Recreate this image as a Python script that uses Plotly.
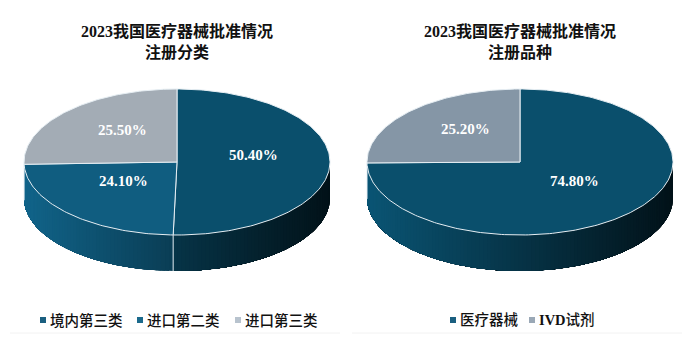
import numpy as np
import plotly.graph_objects as go

# ---------------- data ----------------
title_left = "2023我国医疗器械批准情况<br>注册分类"
title_right = "2023我国医疗器械批准情况<br>注册品种"
cats_left = ["境内第三类", "进口第二类", "进口第三类"]
vals_left = [50.4, 24.1, 25.5]
cats_right = ["医疗器械", "IVD试剂"]
vals_right = [74.8, 25.2]

# ---------------- styles ----------------
colors_left = ["#0a4f6c", "#105d80", "#a3acb5"]
colors_right = ["#0a4f6c", "#8596a6"]
legend_colors_left = ["#1a5f80", "#1b6a8c", "#b8c3ce"]
legend_colors_right = ["#1a5f80", "#9aa8b6"]

W, H = 690, 351
RX, RY, DEPTH = 153, 73, 36
CY = 162
CX_LEFT, CX_RIGHT = 177, 520

fig = go.Figure()


def hex2rgb(h):
    h = h.lstrip("#")
    return tuple(int(h[i:i + 2], 16) for i in (0, 2, 4))


def pt(cx, cy, th):
    r = np.radians(th)
    return cx + RX * np.sin(r), cy - RY * np.cos(r)


def pie3d(cx, vals, colors):
    total = float(sum(vals))
    bounds = [0.0]
    for v in vals:
        bounds.append(bounds[-1] + v / total * 360.0)
    # side wall (visible front half: 90..270 deg clockwise from top)
    for i, (a0, a1) in enumerate(zip(bounds[:-1], bounds[1:])):
        s0, s1 = max(a0, 90.0), min(a1, 270.0)
        if s1 <= s0:
            continue
        n = max(2, int((s1 - s0) / 1.5))
        ths = np.linspace(s0, s1, n + 1)
        base = hex2rgb(colors[i])
        for t0, t1 in zip(ths[:-1], ths[1:]):
            x0, y0 = pt(cx, CY, t0)
            x1, y1 = pt(cx, CY, t1)
            tt = ((x0 + x1) / 2 - (cx - RX)) / (2 * RX)
            f = 1.08 - 0.85 * tt
            c = "rgb(%d,%d,%d)" % tuple(min(255, int(v * f)) for v in base)
            # strip covers from t0 to the end of slice; later strips paint over
            arc = np.linspace(t0, s1, max(2, int((s1 - t0) / 1.5) + 2))
            px = [pt(cx, CY, a)[0] for a in arc]
            py = [pt(cx, CY, a)[1] for a in arc]
            xs = px + px[::-1] + [px[0]]
            ys = py + [v + DEPTH for v in py[::-1]] + [py[0]]
            fig.add_trace(go.Scatter(
                x=xs, y=ys, mode="lines", fill="toself", fillcolor=c,
                line=dict(width=0), hoverinfo="skip", showlegend=False))
    # boundary lines on the side
    for b in bounds:
        if 90.0 < b < 270.0:
            x, y = pt(cx, CY, b)
            fig.add_trace(go.Scatter(x=[x, x], y=[y, y + DEPTH], mode="lines",
                                     line=dict(color="#e6eef3", width=1),
                                     hoverinfo="skip", showlegend=False))
    # top face
    for i, (a0, a1) in enumerate(zip(bounds[:-1], bounds[1:])):
        ths = np.linspace(a0, a1, max(3, int(a1 - a0)))
        xs = [cx] + [pt(cx, CY, t)[0] for t in ths] + [cx]
        ys = [CY] + [pt(cx, CY, t)[1] for t in ths] + [CY]
        fig.add_trace(go.Scatter(x=xs, y=ys, mode="lines", fill="toself",
                                 fillcolor=colors[i],
                                 line=dict(color="#e6eef3", width=1),
                                 hoverinfo="skip", showlegend=False))
        mid = (a0 + a1) / 2
        lx, ly = cx + 0.5 * RX * np.sin(np.radians(mid)), CY - 0.5 * RY * np.cos(np.radians(mid)) - 7
        fig.add_annotation(x=lx, y=ly, xref="x", yref="y", showarrow=False,
                           text="%.2f%%" % vals[i],
                           font=dict(family="Liberation Serif", size=15, color="white", weight="bold"))


pie3d(CX_LEFT, vals_left, colors_left)
pie3d(CX_RIGHT, vals_right, colors_right)

# titles
for cx, t in [(CX_LEFT, title_left), (CX_RIGHT, title_right)]:
    fig.add_annotation(x=cx, y=41, xref="x", yref="y", showarrow=False, text="<b>%s</b>" % t,
                       font=dict(family="Liberation Serif, Noto Sans CJK SC", size=16, color="#111111"))

# legends
leg_y = 320
legend_items = [
    (cats_left, legend_colors_left, [43, 140, 238]),
    (cats_right, legend_colors_right, [453, 532]),
]
for cats, cols, xs in legend_items:
    fig.add_trace(go.Scatter(x=xs, y=[leg_y] * len(xs), mode="markers",
                             marker=dict(symbol="square", size=6, color=cols),
                             hoverinfo="skip", showlegend=False))
    for c, x in zip(cats, xs):
        txt = c.replace("IVD", "<b>IVD</b>")
        fig.add_annotation(x=x + 5, y=leg_y, xref="x", yref="y", showarrow=False,
                           xanchor="left", text=txt,
                           font=dict(family="Liberation Serif, Noto Sans CJK SC", size=14.5,
                                     color="#111111", weight=500))

fig.add_shape(type="line", x0=10, x1=340, y0=333, y1=333, xref="x", yref="y",
              line=dict(color="#f2f2f2", width=1))
fig.add_shape(type="line", x0=352, x1=682, y0=333, y1=333, xref="x", yref="y",
              line=dict(color="#f2f2f2", width=1))

fig.update_layout(
    width=W, height=H, margin=dict(l=0, r=0, t=0, b=0),
    paper_bgcolor="white", plot_bgcolor="white", showlegend=False,
    xaxis=dict(range=[0, W], visible=False, fixedrange=True),
    yaxis=dict(range=[H, 0], visible=False, fixedrange=True),
)
fig.write_html("out.html")
